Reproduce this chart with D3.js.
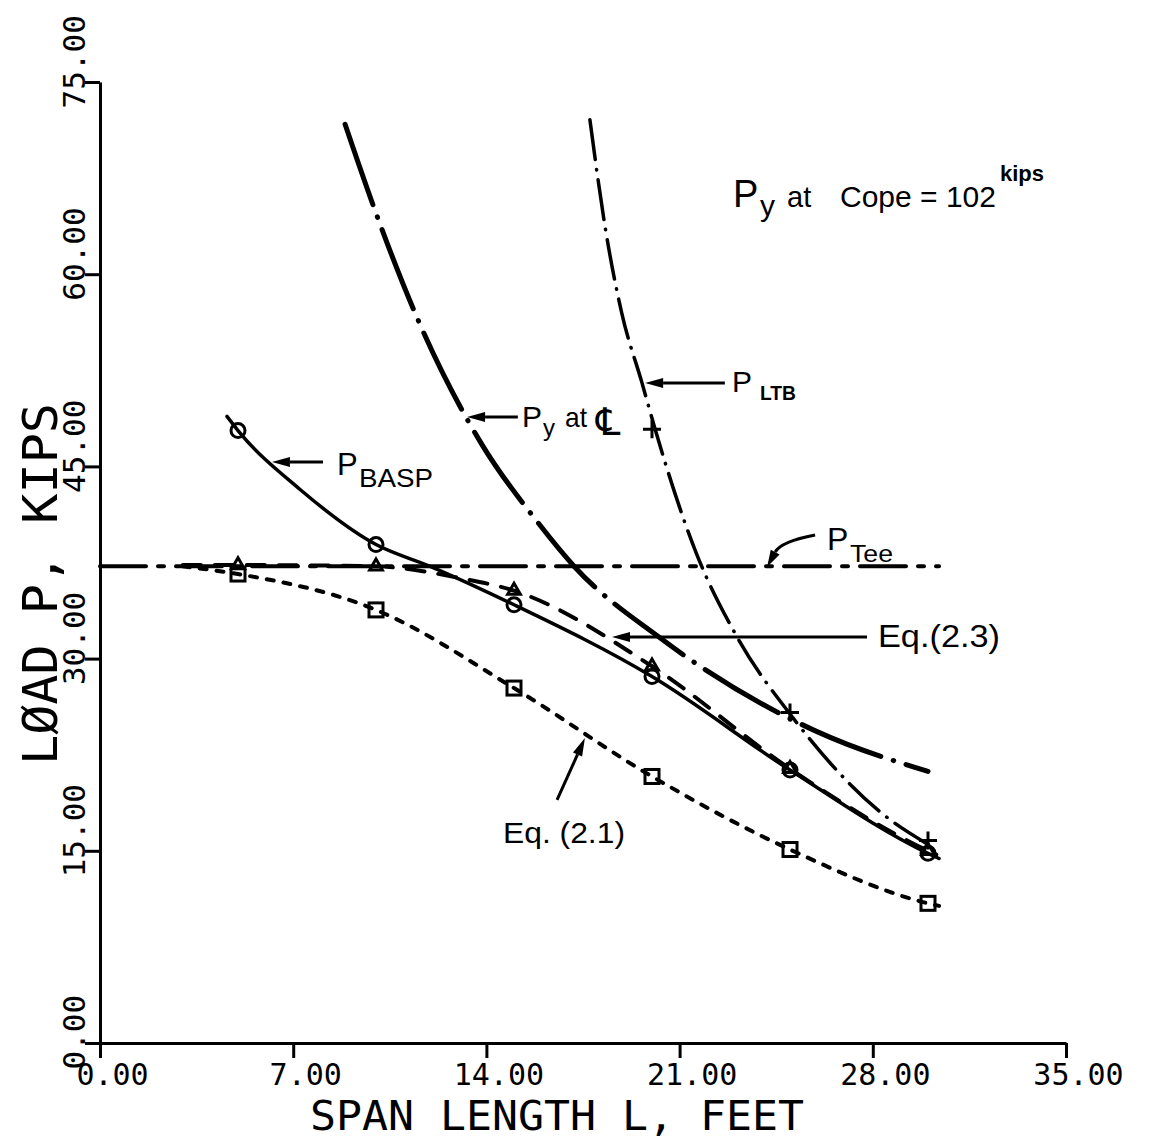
<!DOCTYPE html>
<html><head><meta charset="utf-8">
<script src="https://cdn.jsdelivr.net/npm/d3@7/dist/d3.min.js"></script>
<style>body{margin:0;background:#fff}svg{display:block}</style>
</head><body>
<svg id="chart" width="1153" height="1148"></svg>
<script>
// ---------------- data ----------------
const xTicks = [0, 7, 14, 21, 28, 35];
const yTicks = [0, 15, 30, 45, 60, 75];
const spanMarks = [5, 10, 15, 20, 25, 30];
const pBaspVals = [47.8, 38.9, 34.2, 28.6, 21.3, 14.8];   // circles
const eq23Vals  = [37.3, 37.2, 35.3, 29.4, 21.4, 15.0];   // triangles
const eq21Vals  = [36.6, 33.8, 27.7, 20.8, 15.1, 10.9];   // squares
const ltbSpans  = [20, 25, 30];
const ltbVals   = [47.9, 25.8, 15.8];                       // plus marks
// traced curves [span, load]
const pBaspCurve = [[4.6,48.9],[5,47.8],[7.25,43.2],[10,38.9],[11.96,37.2],[15,34.2],[20,28.6],[25,21.3],[30,14.8],[30.4,14.4]];
const eq23Curve  = [[3,37.3],[5,37.3],[10,37.2],[13,36.3],[15,35.3],[20,29.4],[25,21.4],[30,15.0],[30.3,14.7]];
const eq21Curve  = [[3,37.2],[5,36.6],[10,33.8],[15,27.7],[20,20.8],[25,15.1],[30,10.9],[30.4,10.7]];
const pTeeCurve  = [[0,37.2],[30.4,37.2]];
const pyClCurve  = [[8.88,71.7],[9.96,65.0],[11.6,56.05],[13.84,46.7],[15.8,40.8],[17.2,37.15],[20.3,31.6],[25.98,24.3],[30.0,21.2]];
const ltbCurve   = [[17.75,72.05],[18.3,63.7],[18.9,57.0],[19.64,51.5],[20.1,48.0],[21.6,38.25],[23.08,31.7],[25.1,25.4],[28.4,17.8],[30.0,15.5]];

// ---------------- setup ----------------
const svg = d3.select("#chart");
const x = d3.scaleLinear().domain([0, 35]).range([100, 1066]);
const y = d3.scaleLinear().domain([0, 75]).range([1043, 82]);
const mono = "'DejaVu Sans Mono', monospace";
const sans = "'Liberation Sans', Arial, sans-serif";

// axes
const xAxis = d3.axisBottom(x).tickValues(xTicks).tickSize(15).tickSizeOuter(0)
  .tickFormat(d => d.toFixed(2));
const gx = svg.append("g").attr("transform", `translate(0,${y(0)})`).call(xAxis);
gx.select(".domain").attr("stroke", "#000").attr("stroke-width", 3);
gx.selectAll(".tick line").attr("stroke", "#000").attr("stroke-width", 3);
gx.selectAll(".tick text").attr("font-family", mono).attr("font-size", 30)
  .attr("fill", "#000").attr("text-anchor", "middle").attr("dy", null)
  .attr("x", 12).attr("y", 42);

const yAxis = d3.axisLeft(y).tickValues(yTicks).tickSize(15).tickSizeOuter(0)
  .tickFormat(d => d.toFixed(2));
const gy = svg.append("g").attr("transform", `translate(${x(0)},0)`).call(yAxis);
gy.select(".domain").attr("stroke", "#000").attr("stroke-width", 3);
gy.selectAll(".tick line").attr("stroke", "#000").attr("stroke-width", 3);
gy.selectAll(".tick text").attr("font-family", mono).attr("font-size", 31)
  .attr("fill", "#000").attr("text-anchor", "start").attr("dy", null)
  .attr("x", 0).attr("y", 0)
  .attr("transform", "translate(-15,26) rotate(-90)");

// axis titles
svg.append("text").attr("x", 310).attr("y", 1130)
  .attr("font-family", mono).attr("font-size", 41).attr("fill", "#000")
  .attr("textLength", 494).attr("lengthAdjust", "spacingAndGlyphs")
  .text("SPAN LENGTH L, FEET");
svg.append("text").attr("transform", "translate(57,765) rotate(-90)")
  .attr("font-family", mono).attr("font-size", 48).attr("fill", "#000")
  .attr("textLength", 362).attr("lengthAdjust", "spacingAndGlyphs")
  .text("LØAD P, KIPS");

// ---------------- curves ----------------
const line = d3.line().x(d => x(d[0])).y(d => y(d[1])).curve(d3.curveMonotoneX);
function curve(data, w, dash) {
  svg.append("path").datum(data).attr("d", line)
    .attr("fill", "none").attr("stroke", "#000").attr("stroke-width", w)
    .attr("stroke-linecap", "round").attr("stroke-linejoin", "round")
    .attr("stroke-dasharray", dash);
}
curve(pTeeCurve, 4, "46,12,6,12");
curve(eq21Curve, 4, "7,10");
curve(eq23Curve, 4, "18,14");
curve(pBaspCurve, 3.5, null);
curve(pyClCurve, 5, "85,13,0.5,13");
curve(ltbCurve, 3.5, "40,10,0.5,10");

// ---------------- markers ----------------
const mk = svg.append("g").attr("fill", "none").attr("stroke", "#000").attr("stroke-width", 3);
spanMarks.forEach((s, i) => {
  mk.append("circle").attr("cx", x(s)).attr("cy", y(pBaspVals[i])).attr("r", 7);
  mk.append("rect").attr("x", x(s) - 7).attr("y", y(eq21Vals[i]) - 7).attr("width", 14).attr("height", 14);
  mk.append("path").attr("transform", `translate(${x(s)},${y(eq23Vals[i])})`)
    .attr("d", d3.symbol(d3.symbolTriangle, 70)());
});
ltbSpans.forEach((s, i) => {
  mk.append("path").attr("transform", `translate(${x(s)},${y(ltbVals[i])})`)
    .attr("d", "M-9,0H9M0,-9V9");
});

// ---------------- annotations ----------------
function head(X2, Y2, a, L, W) {
  const bx = X2 - L * Math.cos(a), by = Y2 - L * Math.sin(a);
  svg.append("path").attr("d", `M${X2},${Y2}L${bx + W * Math.sin(a)},${by - W * Math.cos(a)}L${bx - W * Math.sin(a)},${by + W * Math.cos(a)}Z`)
    .attr("fill", "#000");
  return [bx, by];
}
function arrow(x1, y1, x2, y2) {
  const X1 = x(x1), Y1 = y(y1), X2 = x(x2), Y2 = y(y2);
  const a = Math.atan2(Y2 - Y1, X2 - X1);
  const [bx, by] = head(X2, Y2, a, 18, 5);
  svg.append("line").attr("x1", X1).attr("y1", Y1).attr("x2", bx).attr("y2", by)
    .attr("stroke", "#000").attr("stroke-width", 3);
}
// one text element per label; parts = [text, x, y, size, textLength, weight, family]
function label(parts) {
  const t = svg.append("text").attr("font-family", sans).attr("fill", "#000");
  parts.forEach(p => {
    const s = t.append("tspan").attr("x", p[1]).attr("y", p[2])
      .attr("font-size", p[3]).attr("font-weight", p[5] || "normal").text(p[0]);
    if (p[4]) s.attr("textLength", p[4]).attr("lengthAdjust", "spacingAndGlyphs");
    if (p[6]) s.attr("font-family", p[6]);
  });
}

arrow(8.08, 45.34, 6.23, 45.34);     // P_BASP
arrow(15.14, 48.86, 13.30, 48.86);   // Py at CL
arrow(22.64, 51.51, 19.75, 51.51);   // P_LTB
arrow(27.79, 31.69, 18.55, 31.69);   // Eq.(2.3)
arrow(16.56, 18.97, 17.57, 23.80);   // Eq.(2.1)

// curved arrow for P_Tee
const tS = [25.91, 39.65], tC = [24.67, 39.14], tE = [24.17, 37.15];
(() => {
  const X2 = x(tE[0]), Y2 = y(tE[1]);
  const a = Math.atan2(Y2 - y(tC[1]), X2 - x(tC[0]));
  const [bx, by] = head(X2, Y2, a, 17, 5);
  svg.append("path")
    .attr("d", `M${x(tS[0])},${y(tS[1])}Q${x(tC[0])},${y(tC[1])} ${bx},${by}`)
    .attr("fill", "none").attr("stroke", "#000").attr("stroke-width", 3);
})();

// label texts
label([["P", 337, 475, 31], ["BASP", 359, 487, 26, 74]]);
label([["P", 522, 427, 30], ["y", 543, 436, 24], ["at", 565, 427, 28, 22], ["\u2104", 596, 435, 38, 0, "normal", "'DejaVu Sans', sans-serif"]]);
label([["P", 732, 392, 30], ["LTB", 760, 400, 21, 36, "bold"]]);
label([["P", 827, 550, 32], ["Tee", 850, 562, 24, 43]]);
label([["Eq.(2.3)", 878, 647, 31, 122]]);
label([["Eq. (2.1)", 503, 843, 30, 122]]);
label([["P", 733, 207, 38], ["y", 760, 216, 30], ["at", 787, 207, 29],
       ["Cope = 102", 840, 207, 30], ["kips", 1000, 181, 22, 0, "bold"]]);
</script>
</body></html>
